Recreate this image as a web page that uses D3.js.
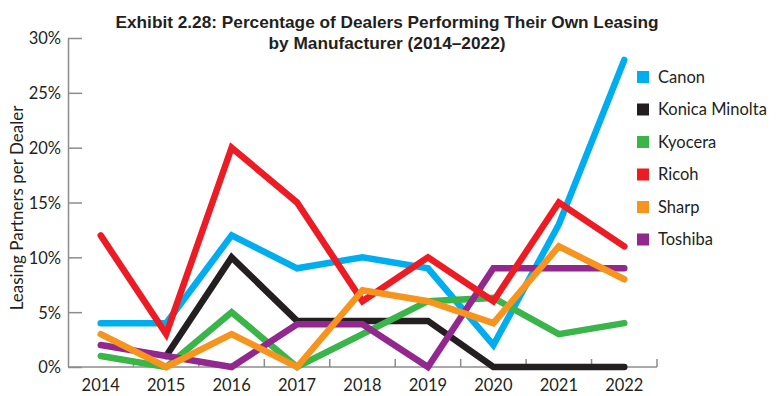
<!DOCTYPE html>
<html>
<head>
<meta charset="utf-8">
<script src="https://cdn.jsdelivr.net/npm/d3@7"></script>
<style>
  body { margin: 0; background: #fff; }
  text { font-family: Lato, "Noto Sans", sans-serif; fill: #231f20; }
  .title text { font-family: "Liberation Sans", Arial, sans-serif; font-weight: bold; }
</style>
</head>
<body>
<script>
var years = ["2014", "2015", "2016", "2017", "2018", "2019", "2020", "2021", "2022"];
var yTicks = [0, 5, 10, 15, 20, 25, 30];

// percent of dealers
var canon   = [4, 4, 12, 9, 10, 9, 2, 13, 28];
var konica  = [null, 1, 10, 4.2, 4.2, 4.2, 0, 0, 0];
var kyocera = [1, 0, 5, 0, 3, 6, 6.3, 3, 4];
var ricoh   = [12, 3, 20, 15, 6, 10, 6, 15, 11];
var sharp   = [3, 0, 3, 0, 7, 6, 4, 11, 8];
var toshiba = [2, 1, 0, 3.9, 3.9, 0, 9, 9, 9];

var names  = ["Canon", "Konica Minolta", "Kyocera", "Ricoh", "Sharp", "Toshiba"];
var colors = ["#00aeef", "#231f20", "#39b54a", "#ed1c24", "#f7941d", "#92278f"];
var values = [canon, konica, kyocera, ricoh, sharp, toshiba];
// stacking order seen in the picture (later = on top)
var drawOrder = [0, 1, 2, 5, 3, 4];

var width = 780,
    height = 396;

var svg = d3.select("body").append("svg")
    .attr("width", width)
    .attr("height", height);

var x = d3.scaleBand().domain(years).range([68, 657]);
var y = d3.scaleLinear().domain([0, 30]).range([367, 38]);

// title
var title = svg.append("g").attr("class", "title");
title.append("text")
    .attr("x", 387).attr("y", 28)
    .attr("text-anchor", "middle")
    .style("font-size", "17px")
    .attr("textLength", 543).attr("lengthAdjust", "spacingAndGlyphs")
    .text("Exhibit 2.28: Percentage of Dealers Performing Their Own Leasing");
title.append("text")
    .attr("x", 387).attr("y", 49)
    .attr("text-anchor", "middle")
    .style("font-size", "17px")
    .attr("textLength", 237).attr("lengthAdjust", "spacingAndGlyphs")
    .text("by Manufacturer (2014\u20132022)");

// y axis
var yAxis = svg.append("g")
    .attr("transform", "translate(68,0)")
    .call(d3.axisLeft(y).tickValues(yTicks).tickSize(-14).tickPadding(7)
      .tickFormat(function(d){ return d + "%"; }));
yAxis.selectAll("line, path").attr("stroke", "#8c8c8c").attr("stroke-width", 1.5);
yAxis.select(".domain").attr("d", "M0.5," + y(30) + "V" + y(0));
yAxis.selectAll("text").style("font-size", "16.5px").style("font-family", "Lato").attr("fill", "#231f20").attr("dy", "0.36em");

// x axis: boundary ticks pointing up, labels centred in bands
var bounds = years.map(function(d){ return x(d); }).concat([x.range()[1]]);
svg.append("line")
    .attr("x1", 68).attr("x2", x.range()[1])
    .attr("y1", y(0)).attr("y2", y(0))
    .attr("stroke", "#8c8c8c").attr("stroke-width", 1.5);
svg.selectAll(".xtick").data(bounds.slice(1)).enter().append("line")
    .attr("class", "xtick")
    .attr("x1", function(d){ return d; }).attr("x2", function(d){ return d; })
    .attr("y1", y(0)).attr("y2", y(0) - 8)
    .attr("stroke", "#8c8c8c").attr("stroke-width", 1.5);
svg.selectAll(".xlabel").data(years).enter().append("text")
    .attr("class", "xlabel")
    .attr("x", function(d){ return x(d) + x.bandwidth() / 2; })
    .attr("y", 391)
    .attr("text-anchor", "middle")
    .style("font-size", "16.5px")
    .text(function(d){ return d; });

// y axis title
svg.append("text")
    .attr("transform", "translate(23,208) rotate(-90)")
    .attr("text-anchor", "middle")
    .style("font-size", "17px")
    .text("Leasing Partners per Dealer");

// lines
var line = d3.line()
    .defined(function(d){ return d != null; })
    .x(function(d, i){ return x(years[i]) + x.bandwidth() / 2; })
    .y(function(d){ return y(d); });

svg.selectAll(".series").data(drawOrder).enter().append("path")
    .attr("class", "series")
    .attr("d", function(k){ return line(values[k]); })
    .attr("fill", "none")
    .attr("stroke", function(k){ return colors[k]; })
    .attr("stroke-width", 6.5)
    .attr("stroke-linejoin", "miter")
    .attr("stroke-linecap", "round");

// legend
var legend = svg.selectAll(".legend").data(names).enter().append("g")
    .attr("class", "legend")
    .attr("transform", function(d, i){ return "translate(637," + (77 + i * 32.5) + ")"; });
legend.append("rect")
    .attr("x", 0).attr("y", -6)
    .attr("width", 12).attr("height", 12)
    .attr("fill", function(d, i){ return colors[i]; });
legend.append("text")
    .attr("x", 21).attr("y", 0).attr("dy", "0.36em")
    .style("font-size", "16.5px")
    .text(function(d){ return d; });
</script>
</body>
</html>
